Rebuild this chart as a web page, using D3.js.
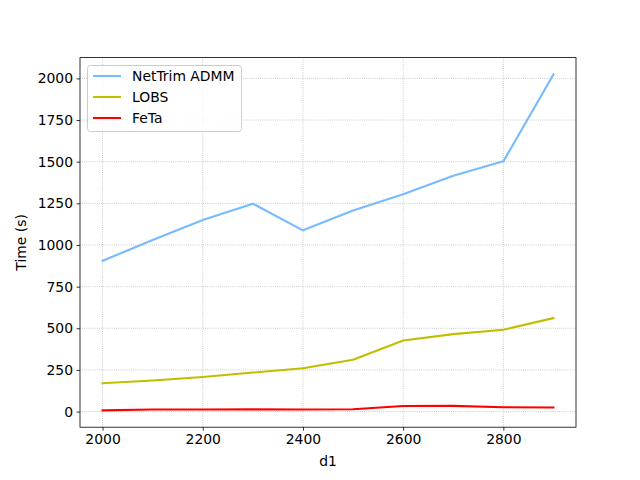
<!DOCTYPE html>
<html><head><meta charset="utf-8">
<script src="https://cdn.jsdelivr.net/npm/d3@7"></script>
<style>body{margin:0;background:#fff}svg text{font-family:"DejaVu Sans",sans-serif}</style>
</head><body><svg id="c" width="640" height="480"></svg>
<script>
const d1 = [2000,2100,2200,2300,2400,2500,2600,2700,2800,2900];
const netTrim = [905,1030,1150,1248,1088,1207,1305,1415,1502,2024];
const lobs = [170,187,208,234,260,311,427,465,491,561];
const feta = [7,12,12,13,12,14,33,34,26,24];
const seriesNames = ["NetTrim ADMM","LOBS","FeTa"];
const seriesColors = ["#75bbfd","#bfbf00","#ff0000"];
const xTicks = [2000,2200,2400,2600,2800];
const yTicks = [0,250,500,750,1000,1250,1500,1750,2000];

const svg = d3.select("#c");
const L=80,R=576,T=57.6,B=427.2;
const xmin=d3.min(d1), xmax=d3.max(d1), xm=(xmax-xmin)*0.05;
const all=[...netTrim,...lobs,...feta];
const ymin=d3.min(all), ymax=d3.max(all), ym=(ymax-ymin)*0.05;
const x=d3.scaleLinear().domain([xmin-xm,xmax+xm]).range([L,R]);
const y=d3.scaleLinear().domain([ymin-ym,ymax+ym]).range([B,T]);

// grid
const g=svg.append("g");
xTicks.forEach(t=>g.append("line").attr("x1",x(t)).attr("x2",x(t)).attr("y1",T).attr("y2",B)
  .attr("stroke","#b0b0b0").attr("stroke-width",0.8).attr("stroke-dasharray","0.8,1.32"));
yTicks.forEach(t=>g.append("line").attr("x1",L).attr("x2",R).attr("y1",y(t)).attr("y2",y(t))
  .attr("stroke","#b0b0b0").attr("stroke-width",0.8).attr("stroke-dasharray","0.8,1.32"));

// lines
const data=[netTrim,lobs,feta];
const line=d3.line().x((d,i)=>x(d1[i])).y(d=>y(d));
data.forEach((s,k)=>svg.append("path").attr("d",line(s)).attr("fill","none")
  .attr("stroke",seriesColors[k]).attr("stroke-width",2.08).attr("stroke-linejoin","round").attr("stroke-linecap","square"));

// axes
const xa=svg.append("g").attr("transform",`translate(0,${B})`)
  .call(d3.axisBottom(x).tickValues(xTicks).tickSize(3.5).tickPadding(3.5).tickFormat(d3.format("d")));
const ya=svg.append("g").attr("transform",`translate(${L},0)`)
  .call(d3.axisLeft(y).tickValues(yTicks).tickSize(3.5).tickPadding(3.5).tickFormat(d3.format("d")));
[xa,ya].forEach(a=>{a.select(".domain").remove();a.selectAll("text").attr("font-size",13.9).attr("fill","#000")
  .attr("font-family","DejaVu Sans");a.selectAll("line").attr("stroke","#000").attr("stroke-width",0.8);});
svg.append("rect").attr("x",L).attr("y",T).attr("width",R-L).attr("height",B-T)
  .attr("fill","none").attr("stroke","#000").attr("stroke-width",0.8);

svg.append("text").attr("x",(L+R)/2).attr("y",466).attr("text-anchor","middle").attr("font-size",13.9).text("d1");
svg.append("text").attr("transform",`translate(26,${(T+B)/2}) rotate(-90)`).attr("text-anchor","middle")
  .attr("font-size",13.9).text("Time (s)");

// legend
const lg=svg.append("g");
lg.append("rect").attr("x",87.5).attr("y",65.5).attr("width",154).attr("height",66).attr("rx",3)
  .attr("fill","#fff").attr("fill-opacity",0.8).attr("stroke","#cccccc").attr("stroke-width",1);
seriesNames.forEach((n,i)=>{
  const yy=76+i*21;
  lg.append("line").attr("x1",93).attr("x2",121).attr("y1",yy).attr("y2",yy).attr("stroke",seriesColors[i]).attr("stroke-width",2.08);
  lg.append("text").attr("x",132).attr("y",yy).attr("dy","0.35em").attr("font-size",13.9).text(n);
});
</script></body></html>
